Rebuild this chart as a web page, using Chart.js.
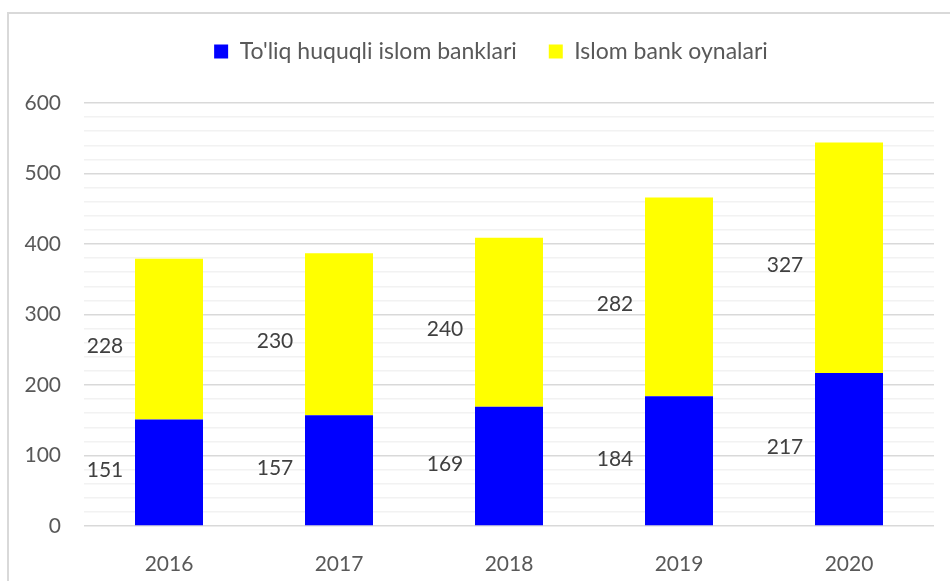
<!DOCTYPE html>
<html>
<head>
<meta charset="utf-8">
<script src="https://cdn.jsdelivr.net/npm/chart.js@4/dist/chart.umd.min.js"></script>
<style>
    html, body { margin: 0; padding: 0; background: #fff; overflow: hidden; }
    #wrap { position: relative; width: 950px; height: 581px; }
    #frame {
        position: absolute; left: 7px; top: 12px; width: 1000px; height: 700px;
        border-left: 2px solid #d9d9d9; border-top: 2px solid #d9d9d9;
    }
    canvas { position: absolute; left: 0; top: 0; }
</style>
</head>
<body>
<div id="wrap">
    <div id="frame"></div>
    <canvas id="barChart" width="950" height="581"></canvas>
</div>
<script>
const years = ['2016', '2017', '2018', '2019', '2020'];
const fullBanks = [151, 157, 169, 184, 217];
const bankWindows = [228, 230, 240, 282, 327];
const seriesNames = ["To'liq huquqli islom banklari", 'Islom bank oynalari'];
const yMax = 600;

const FONT = 'Lato, "Open Sans", sans-serif';

// value labels sit to the left of each segment, like the original
const valueLabels = {
    id: 'valueLabels',
    afterDatasetsDraw(chart) {
        const ctx = chart.ctx;
        ctx.save();
        ctx.font = '21px ' + FONT;
        ctx.fillStyle = '#404040';
        ctx.textAlign = 'center';
        ctx.textBaseline = 'middle';
        chart.data.datasets.forEach((ds, i) => {
            const meta = chart.getDatasetMeta(i);
            const dy = i === 0 ? -2 : 7;
            meta.data.forEach((bar, j) => {
                const y = (bar.y + bar.base) / 2 + dy;
                ctx.fillText(String(ds.data[j]), bar.x - 64, y);
            });
        });
        ctx.restore();
    }
};

// fixed legend band height, legend nudged right/down to sit where the original has it
const legendPlace = {
    id: 'legendPlace',
    afterInit(chart) {
        const legend = chart.legend;
        if (!legend) return;
        const fit = legend.fit;
        legend.fit = function () {
            fit.call(this);
            this.height = 103;
        };
    },
    afterLayout(chart) {
        const legend = chart.legend;
        if (!legend) return;
        legend.left += 24;
        legend.right += 24;
        legend.top += 8;
    }
};

const ctx = document.getElementById('barChart').getContext('2d');

new Chart(ctx, {
    type: 'bar',
    data: {
        labels: years,
        datasets: [
            {
                label: seriesNames[0],
                data: fullBanks,
                backgroundColor: '#0000ff',
                stack: 'total'
            },
            {
                label: seriesNames[1],
                data: bankWindows,
                backgroundColor: '#ffff00',
                stack: 'total'
            }
        ]
    },
    options: {
        responsive: false,
        animation: false,
        layout: { padding: { left: 0, right: 16, top: 0, bottom: 0 } },
        datasets: {
            bar: { barPercentage: 0.4, categoryPercentage: 1 }
        },
        plugins: {
            tooltip: { enabled: false },
            legend: {
                position: 'top',
                labels: {
                    boxWidth: 14,
                    boxHeight: 14,
                    padding: 32,
                    color: '#595959',
                    font: { family: FONT, size: 23 }
                }
            }
        },
        scales: {
            x: {
                stacked: true,
                grid: { display: false },
                border: { display: false },
                ticks: {
                    color: '#595959',
                    padding: 18,
                    font: { family: FONT, size: 21 }
                },
                afterFit(scale) { scale.height = 55; }
            },
            y: {
                stacked: true,
                min: 0,
                max: yMax,
                border: { display: false },
                grid: {
                    drawTicks: false,
                    lineWidth: 1.5,
                    color: c => (c.tick && c.tick.value % 100 === 0) ? '#d9d9d9' : '#f2f2f2'
                },
                ticks: {
                    stepSize: 20,
                    autoSkip: false,
                    padding: 23,
                    color: '#595959',
                    font: { family: FONT, size: 21 },
                    callback: v => (v % 100 === 0 ? v : '')
                },
                afterFit(scale) { scale.width = 84; }
            }
        }
    },
    plugins: [valueLabels, legendPlace]
});
</script>
</body>
</html>
